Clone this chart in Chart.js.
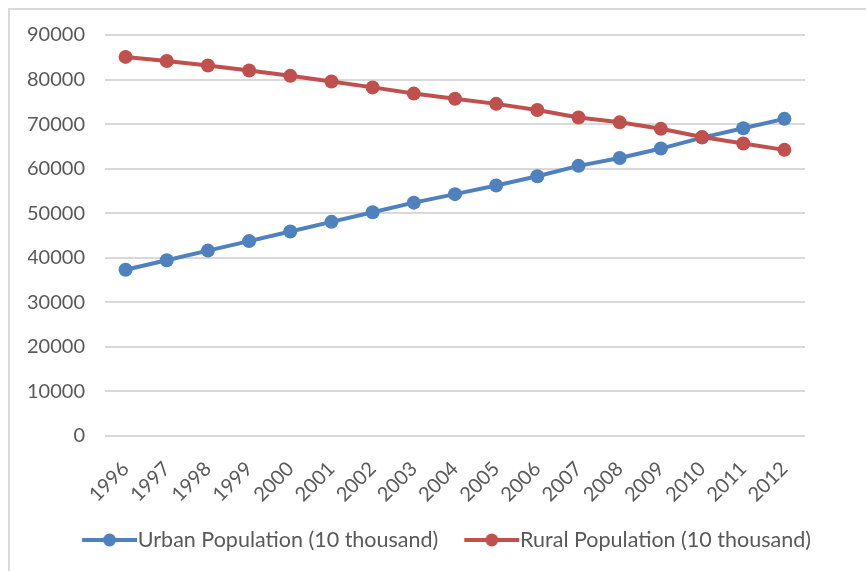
<!DOCTYPE html>
<html>
<head>
<meta charset="utf-8">
<script src="https://cdn.jsdelivr.net/npm/chart.js@4/dist/chart.umd.min.js"></script>
<style>
  html, body { margin: 0; padding: 0; background: #fff; overflow: hidden; }
  #frame { position: absolute; left: 8px; top: 8px; width: 900px; height: 600px;
           border: 2px solid #d9d9d9; box-sizing: border-box; }
  #c { position: absolute; left: 0; top: 0; }
</style>
</head>
<body>
<div id="frame"></div>
<canvas id="c" width="866" height="571"></canvas>
<script>
// Years on the category axis
const years = ['1996','1997','1998','1999','2000','2001','2002','2003','2004',
               '2005','2006','2007','2008','2009','2010','2011','2012'];
// Population, in units of 10 thousand people
const urban = [37304, 39449, 41608, 43748, 45906, 48064, 50212, 52376, 54283,
               56212, 58288, 60633, 62403, 64512, 66978, 69079, 71182];
const rural = [85085, 84177, 83153, 82038, 80837, 79563, 78241, 76851, 75705,
               74544, 73160, 71496, 70399, 68938, 67113, 65656, 64222];
const seriesNames = ['Urban Population (10 thousand)', 'Rural Population (10 thousand)'];
const yTicks = [0, 10000, 20000, 30000, 40000, 50000, 60000, 70000, 80000, 90000];

const BLUE = '#4f81bd';
const RED = '#c0504d';
const TEXT = '#595959';
const FONT = 'Lato, "Liberation Sans", sans-serif';

// Legend swatch: a short line with a dot, shifted right so it meets the label text
function swatch(color) {
  const cv = document.createElement('canvas');
  cv.width = 66; cv.height = 16;
  const g = cv.getContext('2d');
  g.strokeStyle = color; g.lineWidth = 4; g.lineCap = 'butt';
  g.beginPath(); g.moveTo(10, 8); g.lineTo(65, 8); g.stroke();
  g.fillStyle = color;
  g.beginPath(); g.arc(37.5, 8, 6.5, 0, Math.PI * 2); g.fill();
  return cv;
}
const swatches = [swatch(BLUE), swatch(RED)];

new Chart(document.getElementById('c'), {
  type: 'line',
  data: {
    labels: years,
    datasets: [
      { label: seriesNames[0], data: urban, borderColor: BLUE, backgroundColor: BLUE,
        borderWidth: 4, pointRadius: 7, pointHoverRadius: 7, pointBorderWidth: 0,
        tension: 0, order: 1 },
      { label: seriesNames[1], data: rural, borderColor: RED, backgroundColor: RED,
        borderWidth: 4, pointRadius: 7, pointHoverRadius: 7, pointBorderWidth: 0,
        tension: 0, order: 0 }
    ]
  },
  options: {
    responsive: false,
    animation: false,
    layout: { padding: { left: 28, right: 0, top: 35, bottom: 10.25 } },
    plugins: {
      tooltip: { enabled: false },
      legend: {
        position: 'bottom',
        labels: {
          usePointStyle: true,
          pointStyleWidth: 44,
          padding: 27,
          color: TEXT,
          font: { family: FONT, size: 21.5 },
          sort: (a, b) => a.datasetIndex - b.datasetIndex,
          generateLabels: (chart) => {
            const items = Chart.defaults.plugins.legend.labels.generateLabels(chart);
            items.forEach(it => { it.pointStyle = swatches[it.datasetIndex]; });
            return items;
          }
        }
      }
    },
    scales: {
      x: {
        offset: true,
        grid: { display: false, drawTicks: false },
        border: { display: false },
        ticks: { color: TEXT, font: { family: FONT, size: 20 },
                 maxRotation: 45, minRotation: 45, autoSkip: false, padding: 21 },
        afterFit: (s) => { s.height = 66.25; }
      },
      y: {
        min: 0, max: 90000,
        afterBuildTicks: (s) => { s.ticks = yTicks.map(v => ({ value: v })); },
        grid: { color: '#d9d9d9', lineWidth: 2, drawTicks: false },
        border: { display: false },
        ticks: { color: TEXT, font: { family: FONT, size: 20 }, padding: 20,
                 callback: (v) => String(v) },
        afterFit: (s) => { s.width = 77; }
      },
      // empty right-hand margin beside the plot
      yRight: {
        position: 'right',
        display: true,
        grid: { display: false, drawTicks: false },
        border: { display: false },
        ticks: { display: false },
        afterFit: (s) => { s.width = 61; }
      }
    }
  }
});
</script>
</body>
</html>
